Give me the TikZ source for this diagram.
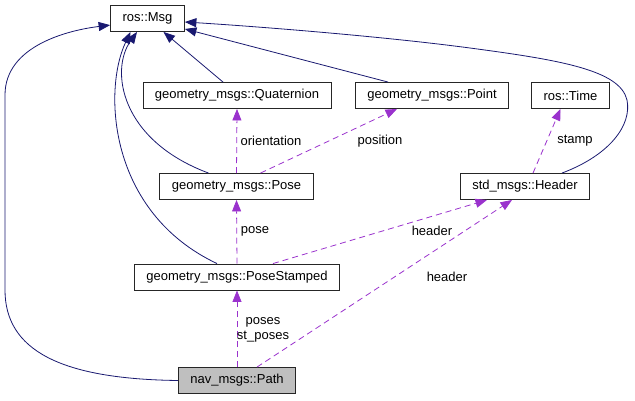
\documentclass[tikz,border=0pt]{standalone}
\usepackage{fontspec}
\setmainfont{Liberation Sans}
\usetikzlibrary{arrows.meta}
\definecolor{edgenavy}{HTML}{191970}
\definecolor{edgeorchid}{HTML}{9A32CD}
\definecolor{nodegray}{HTML}{BFBFBF}

\begin{document}
\begin{tikzpicture}[
    x=1pt, y=-1pt,
    font=\fontsize{13}{15}\selectfont,
    cls/.style={rectangle, draw=black!85, line width=0.9pt, fill=white, inner xsep=12pt, inner ysep=0pt, minimum height=26pt},
    lbl/.style={inner sep=0pt, align=center},
    inherit/.style={draw=edgenavy, line width=0.8pt, -{Triangle[length=11.5pt,width=9pt]}},
    usage/.style={draw=edgeorchid, line width=0.8pt, dash pattern=on 6pt off 4pt, -{Triangle[length=11.5pt,width=9pt]}}
]
\useasboundingbox (0,0) rectangle (635,400);

% classes
\node[cls] (msg) at (147.5,18.5) {ros::Msg};
\node[cls] (quat) at (237,95.5) {geometry\_msgs::Quaternion};
\node[cls] (point) at (432,95.5) {geometry\_msgs::Point};
\node[cls] (time) at (570.5,95.5) {ros::Time};
\node[cls] (pose) at (236.5,186.5) {geometry\_msgs::Pose};
\node[cls] (header) at (525,186.5) {std\_msgs::Header};
\node[cls] (posest) at (237,277) {geometry\_msgs::PoseStamped};
\node[cls, fill=nodegray] (path) at (237,380.5) {nav\_msgs::Path};

% inheritance
\draw[inherit] (path.west) .. controls (60,379) and (5,350) .. (5,290)
    -- (5,95) .. controls (5,45) and (70,30) .. (msg.190);
\draw[inherit] ([xshift=-14pt]quat.north) -- ([xshift=16pt]msg.south);
\draw[inherit] ([xshift=-44pt]point.north) -- ([yshift=3pt]msg.south east);
\draw[inherit] ([xshift=37pt]header.north) .. controls (610,155) and (632,125) .. (627,100)
    .. controls (620,70) and (560,60) .. (470,48)
    .. controls (380,36) and (250,26) .. ([yshift=-3.5pt]msg.east);
\draw[inherit] ([xshift=-28pt]pose.north) .. controls (120,140) and (110,70) .. ([xshift=-10.5pt]msg.south);
\draw[inherit] ([xshift=-20pt]posest.north) .. controls (108,212) and (103,90) .. ([xshift=-17pt]msg.south);

% members
\draw[usage] (pose.north) -- (quat.south);
\draw[usage] ([xshift=24pt]pose.north) -- ([xshift=-35pt]point.south);
\draw[usage] ([xshift=8pt]header.north) -- ([xshift=-10pt]time.south);
\draw[usage] (posest.north) -- (pose.south);
\draw[usage] ([xshift=36pt]posest.north) -- ([xshift=-38pt]header.south);
\draw[usage] (path.north) -- (posest.south);
\draw[usage] ([xshift=20pt]path.north) -- ([xshift=-13pt]header.south);

% member labels
\node[lbl] (l-orient) at (271,141) {orientation};
\node[lbl] (l-position) at (380,141) {position};
\node[lbl] (l-stamp) at (575,141) {stamp};
\node[lbl] (l-pose) at (255,231) {pose};
\node[lbl] (l-header1) at (432,231) {header};
\node[lbl] (l-header2) at (447,277) {header};
\node[lbl] (l-poses) at (263,330) {poses\\st\_poses};
\end{tikzpicture}
\end{document}
